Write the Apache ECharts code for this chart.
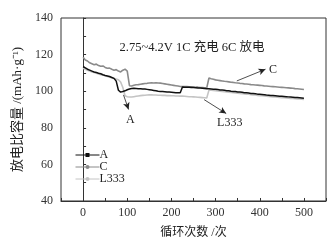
<!DOCTYPE html>
<html><head><meta charset="utf-8">
<script src="https://cdn.jsdelivr.net/npm/echarts@6/dist/echarts.min.js"></script>
<style>html,body{margin:0;padding:0;background:#fff}#c{width:336px;height:244px}</style>
</head><body><div id="c"></div>
<script>
const cycles = [0,5,10,15,20,25,30,35,40,45,50,55,60,65,70,75,80,85,90,95,100,105,110,115,120,125,130,135,140,145,150,155,160,165,170,175,180,185,190,195,200,205,210,215,220,225,230,235,240,245,250,255,260,265,270,275,280,285,290,295,300,305,310,315,320,325,330,335,340,345,350,355,360,365,370,375,380,385,390,395,400,405,410,415,420,425,430,435,440,445,450,455,460,465,470,475,480,485,490,495,500];
const seriesC = [118.5,117,116.5,115.5,115,114.5,114.8,114,113.6,113.8,113,112.5,112.6,112,111.5,111.8,111,110.5,111.5,112,111,103,102.8,103.2,103.5,103.6,103.8,104,104.2,104.3,104.5,104.6,104.5,104.6,104.5,104.4,104.2,104,103.8,103.6,103.4,103.2,103,102.8,102.6,102.5,102.6,102.5,102.4,102.4,102.3,102.2,102.2,102,102,101.9,101.8,107.2,106.8,106.5,106.2,106,105.8,105.6,105.4,105.3,105.1,104.9,104.8,104.6,104.5,104.3,104.2,104,103.9,103.8,103.6,103.5,103.4,103.3,103.2,103.1,102.9,102.8,102.7,102.6,102.5,102.4,102.3,102.2,102.1,102,101.9,101.8,101.7,101.6,101.4,101.3,101.2,101.1,100.9];
const seriesA = [113.5,112.8,112,111.5,111,110.5,110.2,109.8,109.5,109,108.6,108.3,108,107.5,107,105.5,100.5,99.5,99.8,100.2,100.8,101.2,101.5,101.6,101.5,101.4,101.3,101.2,101.2,101,100.8,100.6,100.4,100.2,100,99.9,99.8,99.7,99.6,99.5,99.4,99.3,99.2,99.2,99.1,102.3,102.2,102.1,102.1,102,102,101.9,101.8,101.7,101.6,101.5,101.4,101.3,101.2,101.1,101,100.9,100.7,100.6,100.5,100.3,100.2,100,99.9,99.8,99.6,99.5,99.4,99.2,99.1,99,98.8,98.7,98.6,98.4,98.3,98.2,98.1,97.9,97.8,97.7,97.6,97.5,97.4,97.3,97.2,97.1,97,96.9,96.8,96.7,96.6,96.5,96.4,96.3,96.2];
const seriesL333 = [112.5,112,111.5,111,110.5,110.2,109.8,109.4,109,108.8,108.4,108,107.6,107.3,107,106.6,106.3,105,102,97.5,97,96.8,96.8,97,97.2,97.4,97.6,97.7,97.8,97.9,98,98,97.9,97.9,97.8,97.8,97.7,97.7,97.6,97.6,97.5,97.5,97.4,97.4,97.3,97.3,97.2,97.1,97,97,96.9,96.8,96.7,96.6,96.5,96.4,96.3,100.6,100.5,100.4,100.3,100.1,100,99.9,99.7,99.6,99.5,99.3,99.2,99.1,98.9,98.8,98.7,98.5,98.4,98.3,98.1,98,97.9,97.7,97.6,97.5,97.4,97.2,97.1,97,96.9,96.8,96.7,96.6,96.5,96.4,96.3,96.2,96.1,96,95.9,95.8,95.7,95.6,95.5];
const xTicks = [0,100,200,300,400,500];
const yTicks = [40,60,80,100,120,140];
const titleText = '2.75~4.2V 1C 充电 6C 放电';

const FONT = '"Liberation Serif","Times New Roman","Noto Sans CJK SC",serif';
const pair = arr => cycles.map((c,i)=>[c,arr[i]]);
const chart = echarts.init(document.getElementById('c'), null, {renderer:'canvas'});
const arrowLine = (from,to) => ({
  silent:true, symbol:['none','arrow'], symbolSize:[5,7],
  lineStyle:{color:'#222',width:0.8,type:'solid'}, label:{show:false},
  data:[[{coord:from},{coord:to}]]
});
const textMark = (coord, txt) => ({
  silent:true,
  data:[{coord:coord, symbol:'circle', symbolSize:1, itemStyle:{color:'rgba(0,0,0,0)'},
    label:{show:true, position:'inside', formatter:txt, color:'#222', fontSize:12, fontFamily:FONT}}]
});
chart.setOption({
  animation:false,
  backgroundColor:'#fff',
  grid:{left:61,right:10,top:18,bottom:39,show:true,borderColor:'#333',borderWidth:1},
  title:{text:titleText,left:187,top:36,textAlign:'center',
    textStyle:{fontSize:12.5,fontWeight:'normal',color:'#222',fontFamily:FONT}},
  legend:{orient:'vertical',left:75,top:149,itemWidth:24,itemHeight:5,itemGap:0,padding:0,
    lineStyle:{width:1},
    textStyle:{fontSize:12,lineHeight:11.5,color:'#222',fontFamily:FONT,padding:[0,0,0,-5]},
    data:['A','C','L333']},
  xAxis:{type:'value',min:-50,max:550,interval:50,
    name:'循环次数 /次',nameLocation:'middle',nameGap:26,
    nameTextStyle:{fontSize:12,color:'#222',fontFamily:FONT},
    axisLine:{lineStyle:{color:'#333'}},
    axisTick:{inside:true,length:3,lineStyle:{color:'#333'}},
    splitLine:{show:false},
    axisLabel:{fontSize:12,color:'#333',fontFamily:FONT,margin:6,
      formatter:v=> xTicks.indexOf(v)>=0 ? String(v) : ''}},
  yAxis:{type:'value',min:40,max:140,interval:10,
    name:'放电比容量 /(mAh·g⁻¹)',nameLocation:'middle',nameGap:34,nameRotate:90,
    nameTextStyle:{fontSize:13,color:'#222',fontFamily:FONT},
    axisLine:{show:true,lineStyle:{color:'#333'}},
    axisTick:{show:true,inside:true,length:3,lineStyle:{color:'#333'}},
    splitLine:{show:false},
    axisLabel:{fontSize:12,color:'#333',fontFamily:FONT,margin:8,
      formatter:v=> yTicks.indexOf(v)>=0 ? String(v) : ''}},
  series:[
    {name:'L333',type:'line',data:pair(seriesL333),symbol:'none',
      lineStyle:{color:'#c4c4c4',width:1.6},itemStyle:{color:'#c4c4c4'},
      markLine:arrowLine([274,95.4],[324,87.8]), markPoint:textMark([332,82.5],'L333')},
    {name:'C',type:'line',data:pair(seriesC),symbol:'circle',symbolSize:2,showSymbol:false,
      lineStyle:{color:'#8a8a8a',width:1.6},itemStyle:{color:'#8a8a8a'},
      markLine:arrowLine([348,105.6],[413,112]), markPoint:textMark([430,111.5],'C')},
    {name:'A',type:'line',data:pair(seriesA),symbol:'rect',symbolSize:3,showSymbol:false,
      lineStyle:{color:'#111',width:1.5},itemStyle:{color:'#111'},
      markLine:arrowLine([91.5,98],[103,90]), markPoint:textMark([107,84.6],'A')}
  ]
});
</script></body></html>
